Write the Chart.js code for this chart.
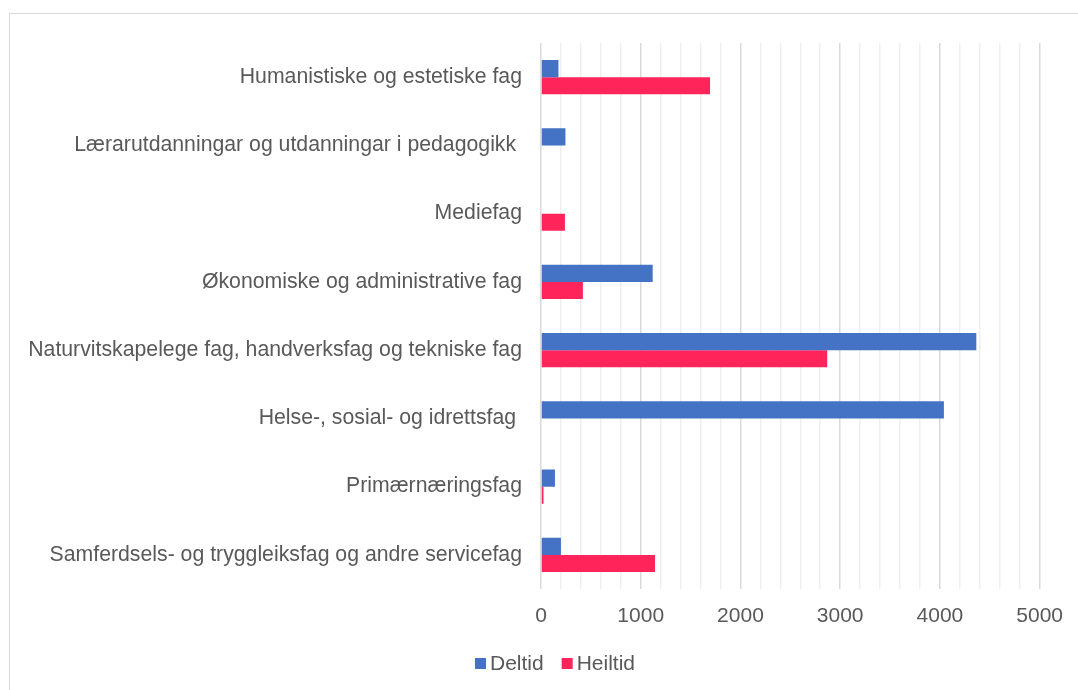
<!DOCTYPE html>
<html><head><meta charset="utf-8">
<script src="https://cdn.jsdelivr.net/npm/chart.js@4"></script>
<style>
html,body{margin:0;padding:0;background:#fff;}
#wrap{position:absolute;left:0;top:0;width:1078px;height:690px;}
#frame{position:absolute;left:9px;top:13px;width:1092px;height:700px;border:1.5px solid #D9D9D9;box-sizing:border-box;}
</style></head>
<body>
<div id="frame"></div>
<div id="wrap"><canvas id="c" width="1078" height="690"></canvas></div>
<script>
const categories = [
  "Humanistiske og estetiske fag",
  "Lærarutdanningar og utdanningar i pedagogikk ",
  "Mediefag",
  "Økonomiske og administrative fag",
  "Naturvitskapelege fag, handverksfag og tekniske fag",
  "Helse-, sosial- og idrettsfag ",
  "Primærnæringsfag",
  "Samferdsels- og tryggleiksfag og andre servicefag"
];
const deltid  = [175, 245, 0, 1120, 4365, 4040, 140, 200];
const heiltid = [1695, 0, 240, 420, 2870, 0, 25, 1143];
const xTicks = [0, 1000, 2000, 3000, 4000, 5000];

const txt = '#595959';
const font = "'Liberation Sans', Arial, sans-serif";
const FS = 21;

const customLegend = {
  id: 'customLegend',
  afterDraw(chart) {
    const ctx = chart.ctx;
    const ds = chart.data.datasets;
    ctx.save();
    ctx.font = FS + 'px ' + font;
    const box = 11, gap = 4, spacing = 18;
    let total = 0;
    const widths = ds.map(d => ctx.measureText(d.label).width);
    widths.forEach((w, i) => { total += box + gap + w + (i < ds.length - 1 ? spacing : 0); });
    let x = 555 - total / 2;
    const cy = 663.5;
    ds.forEach((d, i) => {
      ctx.fillStyle = d.backgroundColor;
      ctx.fillRect(x, cy - box / 2, box, box);
      x += box + gap;
      ctx.fillStyle = txt;
      ctx.textBaseline = 'middle';
      ctx.textAlign = 'left';
      ctx.fillText(d.label, x, cy + 1);
      x += widths[i] + spacing;
    });
    ctx.restore();
  }
};

new Chart(document.getElementById('c'), {
  type: 'bar',
  data: {
    labels: categories,
    datasets: [
      {label: 'Deltid', data: deltid, backgroundColor: '#4472C4', categoryPercentage: 0.5, barPercentage: 1.0},
      {label: 'Heiltid', data: heiltid, backgroundColor: '#FF245A', categoryPercentage: 0.5, barPercentage: 1.0}
    ]
  },
  plugins: [customLegend],
  options: {
    indexAxis: 'y',
    responsive: false,
    animation: false,
    devicePixelRatio: 1,
    layout: {padding: {top: 43, right: 38, left: 0, bottom: 0}},
    plugins: {
      legend: {display: false},
      tooltip: {enabled: false}
    },
    scales: {
      x: {
        min: 0, max: 5000,
        ticks: {
          stepSize: 200, autoSkip: false, maxRotation: 0,
          color: txt, font: {family: font, size: FS}, padding: 15,
          callback: (v) => xTicks.includes(v) ? String(v) : ''
        },
        grid: {
          drawTicks: false,
          color: (ctx) => (ctx.tick && ctx.tick.value % 1000 === 0) ? '#D9D9D9' : '#EFEFEF',
          lineWidth: 1.5
        },
        border: {display: false},
        afterFit: (s) => { s.height = 101; }
      },
      y: {
        ticks: {color: txt, font: {family: font, size: 21.25}, padding: 19, autoSkip: false},
        grid: {display: false, drawTicks: false},
        border: {display: false},
        afterFit: (s) => { s.width = 541; }
      }
    }
  }
});
</script>
</body></html>
